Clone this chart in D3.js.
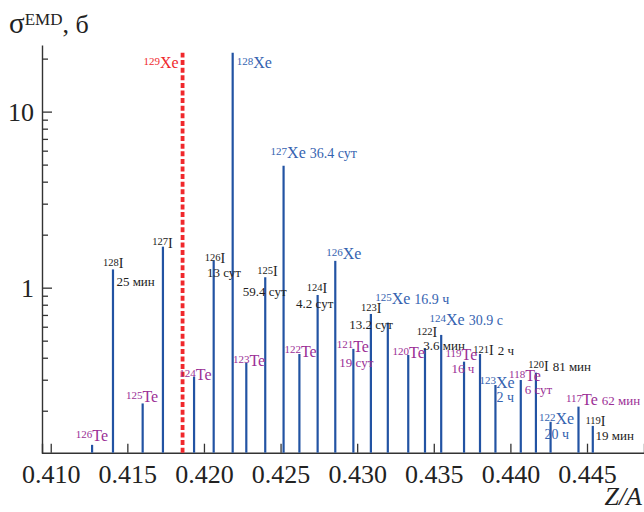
<!DOCTYPE html>
<html>
<head>
<meta charset="utf-8">
<script src="https://cdn.jsdelivr.net/npm/d3@7"></script>
<style>
  body { margin: 0; background: #fff; }
  svg { display: block; font-family: "Liberation Serif", "DejaVu Serif", serif; }
</style>
</head>
<body>
<svg id="chart" width="644" height="512"></svg>
<script>
// Xe (Z=54), I (Z=53), Te (Z=52) fragments, sigma in barn
var xeA = [128, 127, 126, 125, 124, 123, 122]
var xeSigma = [21.6, 4.92, 1.42, 0.633, 0.539, 0.280, 0.173]
var xeHalf = ["", "36.4 сут", "", "16.9 ч", "30.9 с", "2 ч", "20 ч"]

var iA = [128, 127, 126, 125, 124, 123, 122, 121, 120, 119]
var iSigma = [1.27, 1.71, 1.42, 1.146, 0.909, 0.709, 0.454, 0.42, 0.329, 0.164]
var iHalf = ["25 мин", "", "13 сут", "59.4 сут", "4.2 сут", "13.2 сут", "3.6 мин", "2 ч", "81 мин", "19 мин"]

var teA = [126, 125, 124, 123, 122, 121, 120, 119, 118, 117]
var teSigma = [0.128, 0.220, 0.312, 0.375, 0.42, 0.449, 0.415, 0.380, 0.299, 0.211]
var teHalf = ["", "", "", "", "", "19 сут", "", "16 ч", "6 сут", "62 мин"]

// beam nucleus
var beamZ = 54, beamA = 129

var xTicks = [0.410, 0.415, 0.420, 0.425, 0.430, 0.435, 0.440, 0.445]
var yLabels = [1, 10]

// label offsets from bar top: [symbol dx, dy, half-life dx, dy]
// two numbers only -> half-life (if any) follows on the same line
var layout = {
  Xe: {128: [4, 15], 127: [-13, -8], 126: [-9, -2], 125: [-12.6, -18.7],
       124: [-11.7, -10], 123: [-16, 2.7, 1, 17], 122: [-11.7, 2.6, -6, 17.6]},
  I: {128: [-10, -1.6, 3.4, 16.7], 127: [-10.6, 1], 126: [-9, 2.3, -6.7, 16.3], 125: [-8, -1.3, -22.4, 18.7],
      124: [-11, -1.7, -21.6, 13.3], 123: [-10, -0.7, -21.7, 15.3], 122: [-8.3, -11, -1.7, 1.8],
      121: [-6.7, 1], 120: [-7.7, -2], 119: [-7.3, 0, 2.7, 14]},
  Te: {126: [-16.3, -4], 125: [-16.7, -1.6], 124: [-14.7, 3.3], 123: [-13.4, 3.3], 122: [-15, 2.7],
       121: [-16.7, 2.7, -14, 18.3], 120: [-15.7, 3.3], 119: [-18.6, -1.7, -12.6, 11],
       118: [-11.7, 1, 4, 13.6], 117: [-12.6, -1.7]}
}

var symColor = {Xe: "#3563b0", I: "#222222", Te: "#9b2f96"}
var symSize = {Xe: 16, I: 14, Te: 16}
var barColor = "#2253a3"

var nuclides = []
function add(el, z, as, sig, half) {
  as.forEach(function (a, i) {
    nuclides.push({el: el, z: z, a: a, za: z / a, s: sig[i], half: half[i]})
  })
}
add("Xe", 54, xeA, xeSigma, xeHalf)
add("I", 53, iA, iSigma, iHalf)
add("Te", 52, teA, teSigma, teHalf)

var svg = d3.select("#chart")

var x = d3.scaleLinear().domain([0.40943, 0.44872]).range([42, 644])
var y = d3.scaleLog().domain([0.1155, 23.9]).range([452.7, 45])

// axes
var axisColor = "#333"
var xAxis = d3.axisBottom(x).tickValues(xTicks).tickSize(-9).tickPadding(12)
  .tickFormat(d3.format(".3f"))
var gx = svg.append("g").attr("transform", "translate(0," + y.range()[0] + ")").call(xAxis)
gx.select(".domain").attr("stroke", axisColor).attr("stroke-width", 1.4)
gx.selectAll(".tick line").attr("stroke", axisColor).attr("stroke-width", 1.3)
gx.selectAll(".tick text").attr("font-size", 26).attr("fill", "#222")
  .attr("font-family", "Liberation Serif").attr("dy", "0.71em")

var yTicksAll = y.ticks().filter(function (d) { return d >= y.domain()[0] && d <= y.domain()[1] })
var yAxis = d3.axisRight(y).tickValues(yTicksAll).tickSize(0)
var gy = svg.append("g").attr("transform", "translate(" + x.range()[0] + ",0)").call(yAxis)
gy.select(".domain").attr("stroke", axisColor).attr("stroke-width", 1.4)
gy.selectAll(".tick text").remove()
gy.selectAll(".tick line")
  .attr("stroke", axisColor).attr("stroke-width", 1.3)
  .attr("x2", function (d) { return yLabels.indexOf(d) >= 0 ? 10 : 6 })
gy.selectAll(".tick").filter(function (d) { return yLabels.indexOf(d) >= 0 })
  .append("text")
  .attr("x", -8).attr("dy", "0.35em")
  .attr("text-anchor", "end").attr("fill", "#222")
  .attr("font-size", 26).attr("font-family", "Liberation Serif")
  .text(function (d) { return d })

// beam line
svg.append("line")
  .attr("x1", x(beamZ / beamA)).attr("x2", x(beamZ / beamA))
  .attr("y1", y.range()[0]).attr("y2", y(xeSigma[0]))
  .attr("stroke", "#f0282c").attr("stroke-width", 3.8)
  .attr("stroke-dasharray", "5,2.6")

svg.append("text")
  .attr("x", x(beamZ / beamA) - 4).attr("y", y(xeSigma[0]) + 15)
  .attr("text-anchor", "end").attr("fill", "#f0282c")
  .call(function (t) {
    t.append("tspan").attr("font-size", 11).attr("dy", -3.2).text(beamA)
    t.append("tspan").attr("font-size", 16).attr("dy", 3.2).text("Xe")
  })

// bars
svg.append("g").selectAll("line").data(nuclides).enter().append("line")
  .attr("x1", function (d) { return x(d.za) })
  .attr("x2", function (d) { return x(d.za) })
  .attr("y1", y.range()[0])
  .attr("y2", function (d) { return y(d.s) })
  .attr("stroke", barColor).attr("stroke-width", 2.2)

// labels
var lab = svg.append("g")
nuclides.forEach(function (d) {
  var p = layout[d.el][d.a]
  var bx = x(d.za), by = y(d.s)
  var sz = symSize[d.el]
  var raise = d.el == "I" ? 2.2 : 3.2
  var halfSize = d.el == "Xe" ? 14 : 13
  var t = lab.append("text")
    .attr("x", bx + p[0]).attr("y", by + p[1])
    .attr("fill", symColor[d.el])
  t.append("tspan").attr("font-size", d.el == "I" ? 10.5 : 11).attr("dy", -raise).text(d.a)
  t.append("tspan").attr("font-size", sz).attr("dy", raise).text(d.el)
  if (!d.half) return
  if (p.length == 2) {
    t.append("tspan").attr("font-size", halfSize).attr("dx", 4).text(d.half)
  } else {
    lab.append("text")
      .attr("x", bx + p[2]).attr("y", by + p[3])
      .attr("fill", symColor[d.el])
      .attr("font-size", halfSize)
      .text(d.half)
  }
})

// axis titles
var yt = svg.append("text").attr("x", 9).attr("y", 33).attr("fill", "#222")
yt.append("tspan").attr("font-size", 29).text("σ")
yt.append("tspan").attr("font-size", 17).attr("dy", -8).text("EMD")
yt.append("tspan").attr("font-size", 26).attr("dy", 8).text(", б")

svg.append("text").attr("x", 642).attr("y", 505)
  .attr("text-anchor", "end").attr("fill", "#222")
  .attr("font-size", 26).attr("font-style", "italic")
  .text("Z/A")
</script>
</body>
</html>
